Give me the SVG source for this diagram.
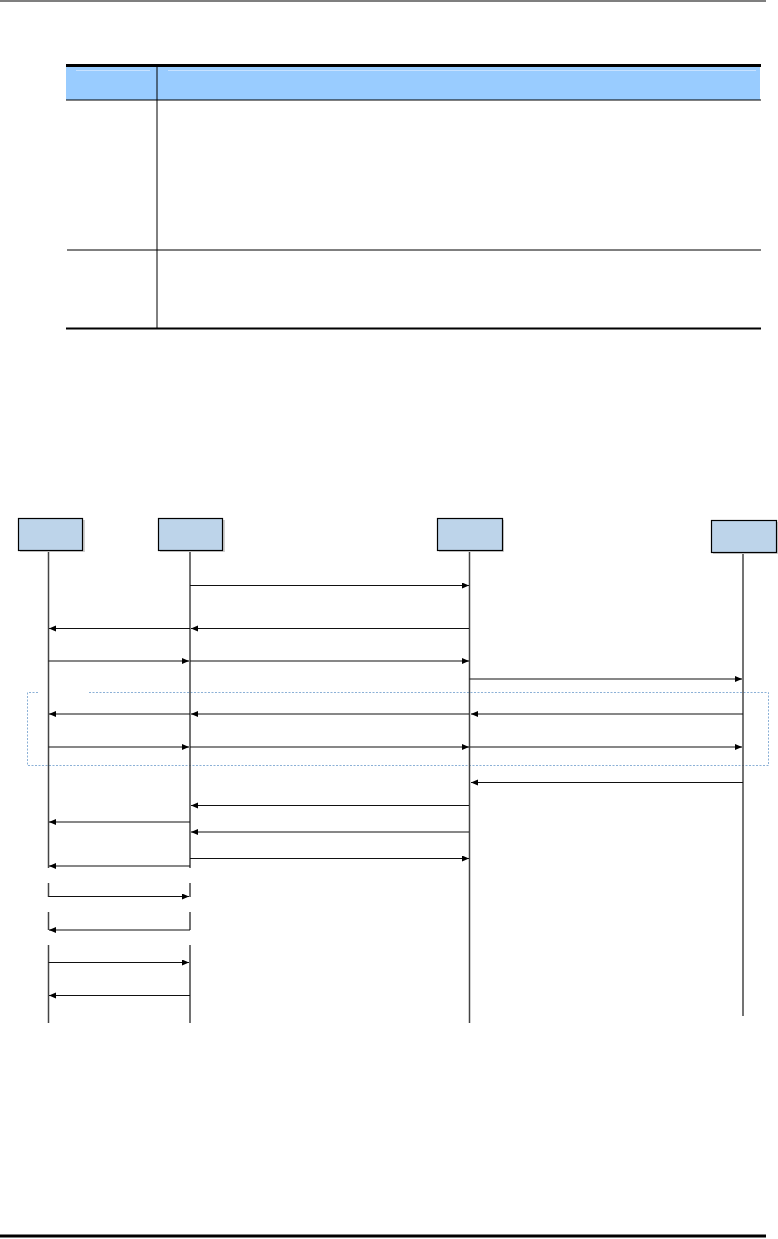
<svg xmlns="http://www.w3.org/2000/svg" width="778" height="1239" viewBox="0 0 778 1239">
<style>
.rule{stroke:#000;fill:none}
.box{fill:#BDD4EA;stroke:#000;stroke-width:1.2}
.shadow{fill:#d0d0d0}
.life{stroke:#444;stroke-width:1.5;fill:none}
.msg{stroke:#111;stroke-width:1.2;fill:none;marker-end:url(#ah)}
.frame{fill:none;stroke:#8BB0D6;stroke-width:1;stroke-dasharray:2 1.5}
</style>
<defs>
<marker id="ah" markerUnits="userSpaceOnUse" markerWidth="8" markerHeight="7" refX="7" refY="3" orient="auto">
<path d="M0,0 L7,3 L0,6 z" fill="#000"/>
</marker>
</defs>
<rect width="778" height="1239" fill="#fff"/>
<!-- page rules -->
<line class="rule" x1="0" y1="1" x2="766" y2="1" stroke-width="1.2"/>
<line class="rule" x1="0" y1="1236" x2="766" y2="1236" stroke-width="3"/>
<!-- table -->
<g id="table">
<rect x="66" y="67" width="694" height="33" fill="#99CCFF"/>
<line x1="76" y1="70.5" x2="150" y2="70.5" stroke="#C8E2FF" stroke-width="1"/>
<line x1="168" y1="70.5" x2="756" y2="70.5" stroke="#C8E2FF" stroke-width="1"/>
<line class="rule" x1="66" y1="65.5" x2="761" y2="65.5" stroke-width="3"/>
<line class="rule" x1="66" y1="100" x2="761" y2="100" stroke-width="1.2"/>
<line class="rule" x1="67" y1="250" x2="761" y2="250" stroke-width="1"/>
<line class="rule" x1="66" y1="328.5" x2="761" y2="328.5" stroke-width="2.2"/>
<line class="rule" x1="157" y1="67" x2="157" y2="328" stroke-width="1"/>
</g>
<!-- frame -->
<path class="frame" d="M38,692.5 H27.5 V765.5 H768.5 V692.5 H88"/>
<!-- lifelines -->
<g id="lifelines">
<path class="life" d="M48.5,551 V868 M48.5,883 V897 M48.5,912 V930 M48.5,945 V1023"/>
<path class="life" d="M190,551 V868 M190,883 V897 M190,912 V930 M190,945 V1023"/>
<path class="life" d="M469.5,551 V1023"/>
<path class="life" d="M743,553 V1016"/>
</g>
<!-- nodes -->
<g id="node1"><rect class="shadow" x="20" y="520" width="65" height="32"/><rect class="box" x="18.5" y="518.5" width="64" height="32"/></g>
<g id="node2"><rect class="shadow" x="160" y="520" width="65" height="32"/><rect class="box" x="158.5" y="518.5" width="64" height="32"/></g>
<g id="node3"><rect class="shadow" x="439" y="520" width="65" height="32"/><rect class="box" x="437.5" y="518.5" width="65" height="32"/></g>
<g id="node4"><rect class="shadow" x="713" y="522" width="65" height="32"/><rect class="box" x="711.5" y="520.5" width="65" height="32"/></g>
<!-- connectors -->
<g id="connectors">
<line class="msg" x1="190" y1="585.5" x2="469" y2="585.5"/>
<line class="msg" x1="469" y1="628.5" x2="191" y2="628.5"/>
<line class="msg" x1="190" y1="628.5" x2="49" y2="628.5"/>
<line class="msg" x1="48.5" y1="661" x2="189" y2="661"/>
<line class="msg" x1="190" y1="661" x2="469" y2="661"/>
<line class="msg" x1="469.5" y1="679" x2="742" y2="679"/>
<line class="msg" x1="743" y1="714" x2="471" y2="714"/>
<line class="msg" x1="469" y1="714" x2="191" y2="714"/>
<line class="msg" x1="190" y1="714" x2="49" y2="714"/>
<line class="msg" x1="48.5" y1="747" x2="189" y2="747"/>
<line class="msg" x1="190" y1="747" x2="469" y2="747"/>
<line class="msg" x1="469.5" y1="747" x2="742" y2="747"/>
<line class="msg" x1="743" y1="782.5" x2="471" y2="782.5"/>
<line class="msg" x1="469" y1="805.5" x2="191" y2="805.5"/>
<line class="msg" x1="190" y1="822" x2="49" y2="822"/>
<line class="msg" x1="469" y1="832" x2="191" y2="832"/>
<line class="msg" x1="190" y1="858.5" x2="469" y2="858.5"/>
<line class="msg" x1="190" y1="866" x2="49" y2="866"/>
<line class="msg" x1="48.5" y1="896.5" x2="189" y2="896.5"/>
<line class="msg" x1="190" y1="930" x2="49" y2="930"/>
<line class="msg" x1="48.5" y1="962.5" x2="189" y2="962.5"/>
<line class="msg" x1="190" y1="995.5" x2="49" y2="995.5"/>
</g>
</svg>
